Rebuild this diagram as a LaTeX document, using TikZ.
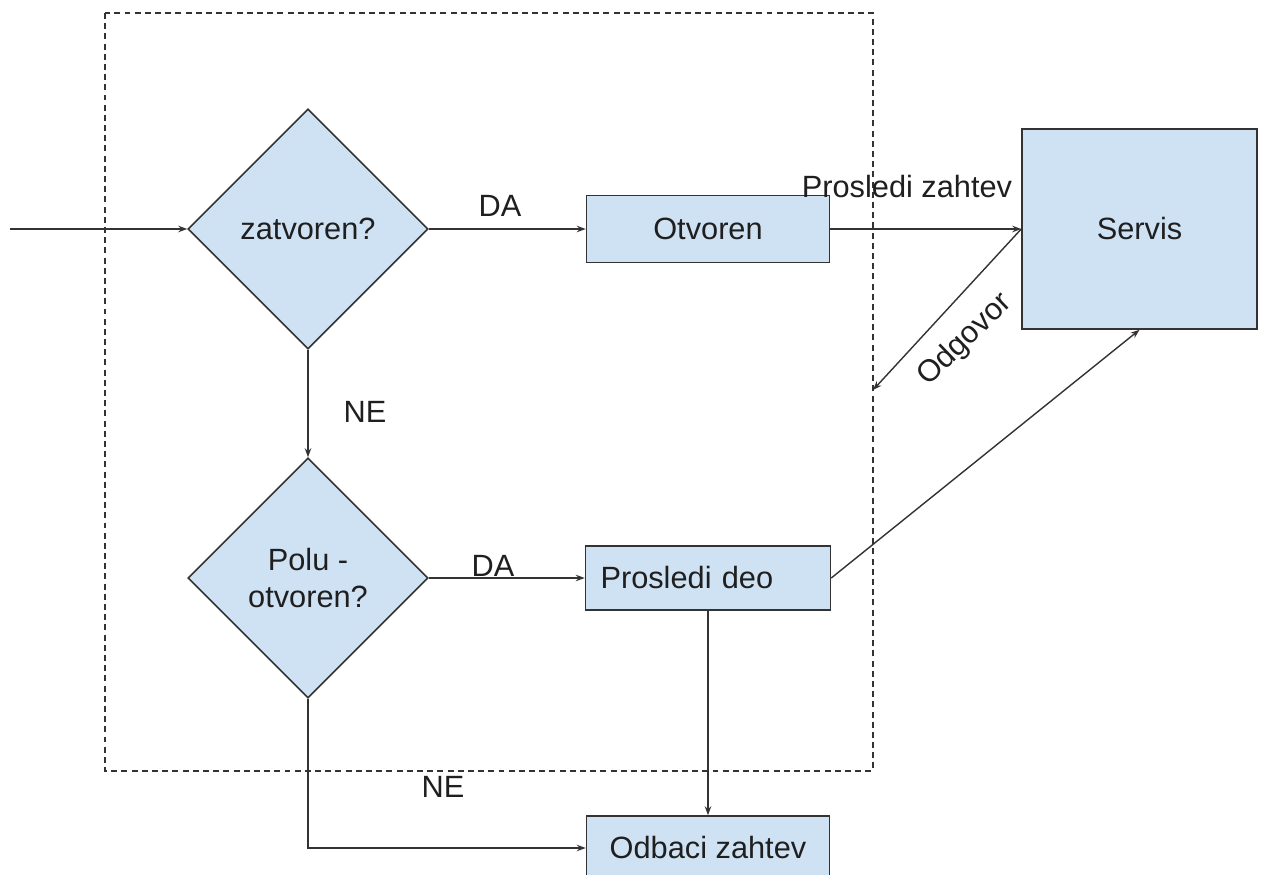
\documentclass[tikz,border=0pt]{standalone}
\usepackage{fontspec}
\setmainfont{Liberation Sans}
\usetikzlibrary{arrows.meta,shapes.geometric}
\definecolor{FlowFill}{HTML}{CFE2F3}
\definecolor{FlowInk}{HTML}{333333}
\definecolor{FlowText}{HTML}{1F1F1F}
\tikzset{
  every node/.style={font=\fontsize{17.5}{21}\selectfont, text=FlowText},
  decision/.style={diamond, draw=FlowInk, line width=0.9pt, fill=FlowFill, minimum width=4.8cm, minimum height=4.8cm, inner sep=0pt, align=center},
  action/.style={rectangle, draw=FlowInk, line width=0.9pt, fill=FlowFill, minimum width=4.86cm, minimum height=1.3cm, inner sep=0pt},
  frame/.style={draw=FlowInk, line width=0.8pt, dash pattern=on 3.4pt off 2.4pt},
  flow/.style={-{Stealth[length=1.8mm,width=1.3mm]}, draw=FlowInk, line width=0.8pt},
}
\begin{document}
\begin{tikzpicture}[x=0.02cm,y=-0.02cm]
  \clip (0,0) rectangle (1261,875);
  \fill[white] (0,0) rectangle (1261,875);
  % granica prekidaca
  \draw[frame] (105,13) rectangle (873,771);
  % cvorovi
  \node[decision] (zatv) at (308,229) {zatvoren?};
  \node[decision] (polu) at (308,578) {Polu -\\otvoren?};
  \node[action, minimum height=1.34cm] (otv) at (708,229) {Otvoren};
  \node[action, minimum width=4.9cm, minimum height=1.28cm, text width=4.3cm, inner xsep=0.3cm, align=left] (pdeo) at (708,578) {Prosledi deo};
  \node[action, minimum height=1.28cm] (odb) at (708,848) {Odbaci zahtev};
  \node[action, minimum width=4.7cm, minimum height=4cm] (servis) at (1139.5,229) {Servis};
  \coordinate (ulaz) at (10,229);
  \coordinate (odg) at (873,390);
  % veze
  \draw[flow] (ulaz) -- (zatv.west);
  \draw[flow] (zatv.east) -- (otv.west);
  \draw[flow] (zatv.south) -- (polu.north);
  \draw[flow] (polu.east) -- (pdeo.west);
  \draw[flow] (polu.south) |- (odb.west);
  \draw[flow] (pdeo.south) -- (odb.north);
  \draw[flow] (otv.east) -- (servis.west);
  \draw[flow] (servis.west) -- (odg);
  \draw[flow] (pdeo.east) -- (servis.south);
  % oznake
  \node (da1) at (500,206) {DA};
  \node (ne1) at (365,412) {NE};
  \node (da2) at (493,566) {DA};
  \node (ne2) at (443,787) {NE};
  \node (prosl) at (907,187) {Prosledi zahtev};
  \node[rotate=44] (odgovor) at (965,340) {Odgovor};
\end{tikzpicture}
\end{document}
